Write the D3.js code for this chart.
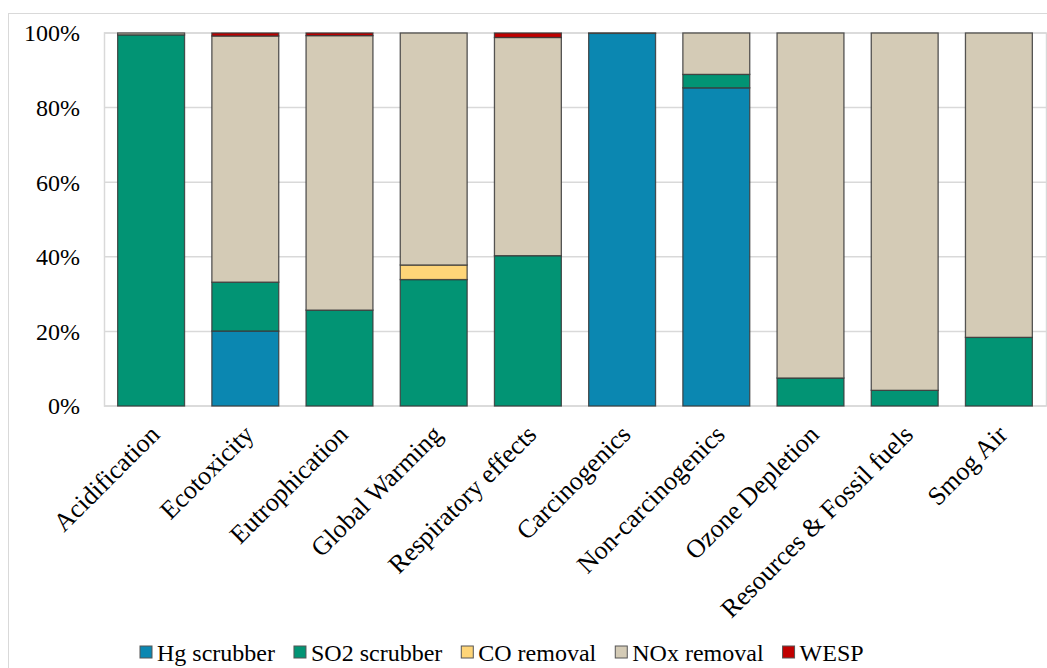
<!DOCTYPE html>
<html>
<head>
<meta charset="utf-8">
<script src="https://cdn.jsdelivr.net/npm/d3@7"></script>
<style>
  html, body { margin: 0; padding: 0; background: #fff; }
  svg { display: block; }
  svg text { font-family: "Times New Roman", "Liberation Serif", Tinos, serif; }
</style>
</head>
<body>
<svg id="chart" width="1047" height="668"></svg>
<script>
// Impact categories along the x axis
const categories = [
  "Acidification", "Ecotoxicity", "Eutrophication", "Global Warming",
  "Respiratory effects", "Carcinogenics", "Non-carcinogenics",
  "Ozone Depletion", "Resources & Fossil fuels", "Smog Air"
];

// Share of each unit operation (% contribution per category)
const hgScrubber  = [0,    20.1, 0,    0,    0,    99.9, 85.3, 0,    0,    0];
const so2Scrubber = [99.5, 13.1, 25.7, 33.9, 40.3, 0,    3.6,  7.5,  4.2,  18.4];
const coRemoval   = [0,    0,    0,    3.9,  0,    0,    0,    0,    0,    0];
const noxRemoval  = [0.5,  66.0, 73.6, 62.2, 58.5, 0.1,  11.1, 92.5, 95.8, 81.6];
const wesp        = [0,    0.8,  0.7,  0,    1.2,  0,    0,    0,    0,    0];

const seriesNames  = ["Hg scrubber", "SO2 scrubber", "CO removal", "NOx removal", "WESP"];
const seriesColors = ["#0b87b1", "#029474", "#fed578", "#d4cbb6", "#c00000"];
const yTicks = [0, 20, 40, 60, 80, 100];

const FONT = '"Times New Roman", "Liberation Serif", Tinos, serif';

const seriesValues = [hgScrubber, so2Scrubber, coRemoval, noxRemoval, wesp];
const rows = categories.map((c, i) => {
  const r = { category: c };
  seriesNames.forEach((s, k) => { r[s] = seriesValues[k][i]; });
  return r;
});

const svg = d3.select("#chart");
const margin = { left: 104, right: 1, top: 33, bottom: 262 };
const W = 1047, H = 668;
const plotW = W - margin.left - margin.right;
const plotH = H - margin.top - margin.bottom;

// Outer chart frame
svg.append("rect")
  .attr("x", 8.5).attr("y", 13.5)
  .attr("width", 1060).attr("height", 700)
  .attr("fill", "none").attr("stroke", "#d9d9d9").attr("stroke-width", 1);

const x = d3.scaleBand().domain(categories).range([0, plotW]).paddingInner(0.29).paddingOuter(0.145);
const y = d3.scaleLinear().domain([0, 100]).range([plotH, 0]);

const g = svg.append("g").attr("transform", `translate(${margin.left},${margin.top})`);

// Plot area frame + gridlines
g.append("rect")
  .attr("x", 0.5).attr("y", 0)
  .attr("width", plotW).attr("height", plotH)
  .attr("fill", "none").attr("stroke", "#d9d9d9").attr("stroke-width", 1.5);

g.append("g").selectAll("line").data(yTicks).join("line")
  .attr("x1", 0).attr("x2", plotW)
  .attr("y1", d => y(d)).attr("y2", d => y(d))
  .attr("stroke", "#d9d9d9").attr("stroke-width", 1.5);

// Y axis labels, right-aligned against the plot
const ya = g.append("g").style("font-family", FONT);
ya.selectAll("text").data(yTicks).join("text")
  .attr("x", -24).attr("y", d => y(d))
  .attr("text-anchor", "end")
  .attr("dy", "0.35em")
  .style("font-family", FONT).style("font-size", "24px")
  .attr("fill", "#000")
  .text(d => d + "%");

// Stacked bars
const stack = d3.stack().keys(seriesNames);
const stacked = stack(rows);
const color = d3.scaleOrdinal().domain(seriesNames).range(seriesColors);

g.append("g").selectAll("g").data(stacked).join("g")
  .attr("fill", d => color(d.key))
  .selectAll("rect").data(d => d.filter(p => p[1] - p[0] > 0)).join("rect")
    .attr("x", d => x(d.data.category))
    .attr("width", x.bandwidth())
    .attr("y", d => y(d[1]))
    .attr("height", d => y(d[0]) - y(d[1]))
    .attr("stroke", "#3a3a3a").attr("stroke-width", 1.3)
    .attr("stroke-opacity", 0.85);

// X axis labels, rotated
const xa = g.append("g").attr("transform", `translate(0,${plotH})`)
  .style("font-family", FONT);
xa.selectAll("text").data(categories).join("text")
  .attr("transform", d => `translate(${x(d) + x.bandwidth() / 2 + 10},${30}) rotate(-45)`)
  .attr("text-anchor", "end")
  .style("font-family", FONT)
  .style("font-size", "26px")
  .attr("fill", "#000")
  .text(d => d);

// Legend
const legend = svg.append("g").attr("transform", "translate(0,652)")
  .style("font-family", FONT);
let lx = 140;
seriesNames.forEach((s, i) => {
  const item = legend.append("g").attr("transform", `translate(${lx},0)`);
  item.append("rect").attr("x", 0).attr("y", -6).attr("width", 12).attr("height", 12)
    .attr("fill", seriesColors[i]).attr("stroke", "#555").attr("stroke-width", 1);
  const t = item.append("text").attr("x", 17).attr("y", 8.5)
    .style("font-family", FONT).style("font-size", "24px")
    .attr("fill", "#000").text(s);
  lx += 17 + t.node().getComputedTextLength() + 19;
});
</script>
</body>
</html>
